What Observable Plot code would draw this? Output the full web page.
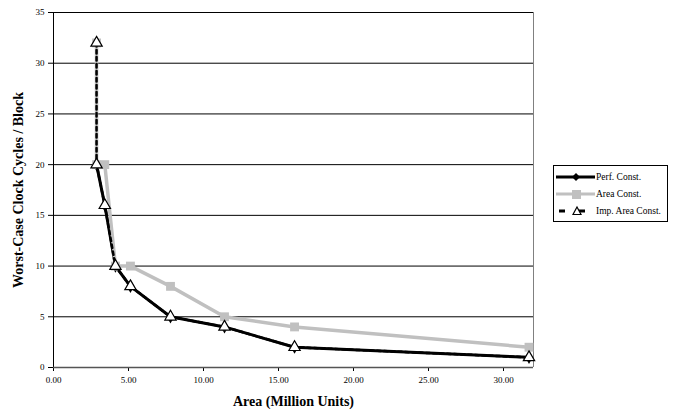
<!DOCTYPE html>
<html>
<head>
<meta charset="utf-8">
<script src="https://cdn.jsdelivr.net/npm/d3@7"></script>
<script src="https://cdn.jsdelivr.net/npm/@observablehq/plot@0.6"></script>
<style>
  html, body { margin: 0; padding: 0; background: #fff; }
  #wrap { position: relative; width: 675px; height: 414px; font-family: "Liberation Serif", "Times New Roman", serif; }
  #wrap svg text { font-family: "Liberation Serif", "Times New Roman", serif; }
  g[aria-label="y-axis label"] text, g[aria-label="x-axis label"] text { font-weight: bold; font-size: 14px; }
  #legend { position: absolute; left: 553px; top: 165px; width: 113px; border: 1px solid #000; background: #fff; padding: 2px 0 2px 0; font-size: 9.5px; white-space: nowrap; overflow: hidden; }
  #legend .row { display: flex; align-items: center; height: 17px; }
  #legend svg { display: block; flex: none; }
</style>
</head>
<body>
<div id="wrap"></div>
<script>
// Series names
const seriesNames = ["Perf. Const.", "Area Const.", "Imp. Area Const."];

// Perf. Const.
const perfArea   = [2.87, 3.42, 4.13, 5.13, 7.8, 11.4, 16.07, 31.7];
const perfCycles = [20, 16, 10, 8, 5, 4, 2, 1];

// Area Const.
const areaArea   = [2.87, 2.87, 3.42, 4.13, 5.13, 7.8, 11.4, 16.07, 31.7];
const areaCycles = [32, 20, 20, 10, 10, 8, 5, 4, 2];

// Imp. Area Const.
const impArea   = [2.87, 2.87, 3.42, 4.13, 5.13, 7.8, 11.4, 16.07, 31.7];
const impCycles = [32, 20, 16, 10, 8, 5, 4, 2, 1];

// Ticks
const xTicks = [0, 5, 10, 15, 20, 25, 30];
const yTicks = [0, 5, 10, 15, 20, 25, 30, 35];

const perf = perfArea.map((x, i) => ({x, y: perfCycles[i]}));
const area = areaArea.map((x, i) => ({x, y: areaCycles[i]}));
const imp  = impArea.map((x, i) => ({x, y: impCycles[i]}));

const gray = "#c0c0c0";

const chart = Plot.plot({
  width: 675,
  height: 414,
  marginLeft: 53,
  marginRight: 142,
  marginTop: 12,
  marginBottom: 47,
  style: {fontFamily: "Liberation Serif, serif", fontSize: "9px", background: "#fff"},
  x: {domain: [0, 32], ticks: xTicks},
  y: {domain: [0, 35], ticks: yTicks},
  marks: [
    Plot.gridY(yTicks.filter(d => d > 0), {stroke: "#000", strokeOpacity: 1, strokeWidth: 1}),
    Plot.ruleX([32], {stroke: "#808080", strokeWidth: 1}),
    Plot.axisX({ticks: xTicks, tickFormat: d => d.toFixed(2), tickSize: 4, tickPadding: 5,
      label: "Area (Million Units)", labelAnchor: "center", labelArrow: "none", labelOffset: 38, stroke: "#000"}),
    Plot.axisY({ticks: yTicks, tickSize: 5, tickPadding: 4,
      label: "Worst-Case Clock Cycles / Block", labelAnchor: "center", labelArrow: "none", labelOffset: 40, stroke: "#000"}),
    Plot.ruleX([0], {stroke: "#000", strokeWidth: 1}),
    Plot.ruleY([0], {stroke: "#555", strokeWidth: 1.5}),
    // Perf. Const.
    Plot.line(perf, {x: "x", y: "y", stroke: "#000", strokeWidth: 3}),
    Plot.dot(perf, {x: "x", y: "y", symbol: "diamond", r: 4, fill: "#000"}),
    // Area Const.
    Plot.line(area, {x: "x", y: "y", stroke: gray, strokeWidth: 3.5}),
    Plot.dot(area, {x: "x", y: "y", symbol: "square", r: 5, fill: gray}),
    // Imp. Area Const.
    Plot.line(imp, {x: "x", y: "y", stroke: "#000", strokeWidth: 2.5, strokeDasharray: "3.5,3.5"}),
    Plot.dot(imp, {x: "x", y: "y", symbol: "triangle", r: 4.2, fill: "#fff", stroke: "#000", strokeWidth: 1.2})
  ]
});
document.getElementById("wrap").appendChild(chart);

// Legend
const legend = document.createElement("div");
legend.id = "legend";
const swatch = (i) => {
  if (i === 0) return `<svg width="42" height="12"><line x1="2" y1="6" x2="41" y2="6" stroke="#000" stroke-width="3"/><path d="M22,2 L26,6 L22,10 L18,6 Z" fill="#000"/></svg>`;
  if (i === 1) return `<svg width="42" height="12"><line x1="2" y1="6" x2="41" y2="6" stroke="${gray}" stroke-width="3"/><rect x="18" y="2" width="9" height="9" fill="${gray}"/></svg>`;
  return `<svg width="42" height="12"><line x1="5" y1="6" x2="41" y2="6" stroke="#000" stroke-width="3" stroke-dasharray="6,14"/><path d="M23,2 L27,9.5 L19,9.5 Z" fill="#fff" stroke="#000" stroke-width="1.2"/></svg>`;
};
legend.innerHTML = seriesNames.map((n, i) => `<div class="row">${swatch(i)}<span>${n}</span></div>`).join("");
document.getElementById("wrap").appendChild(legend);
</script>
</body>
</html>
